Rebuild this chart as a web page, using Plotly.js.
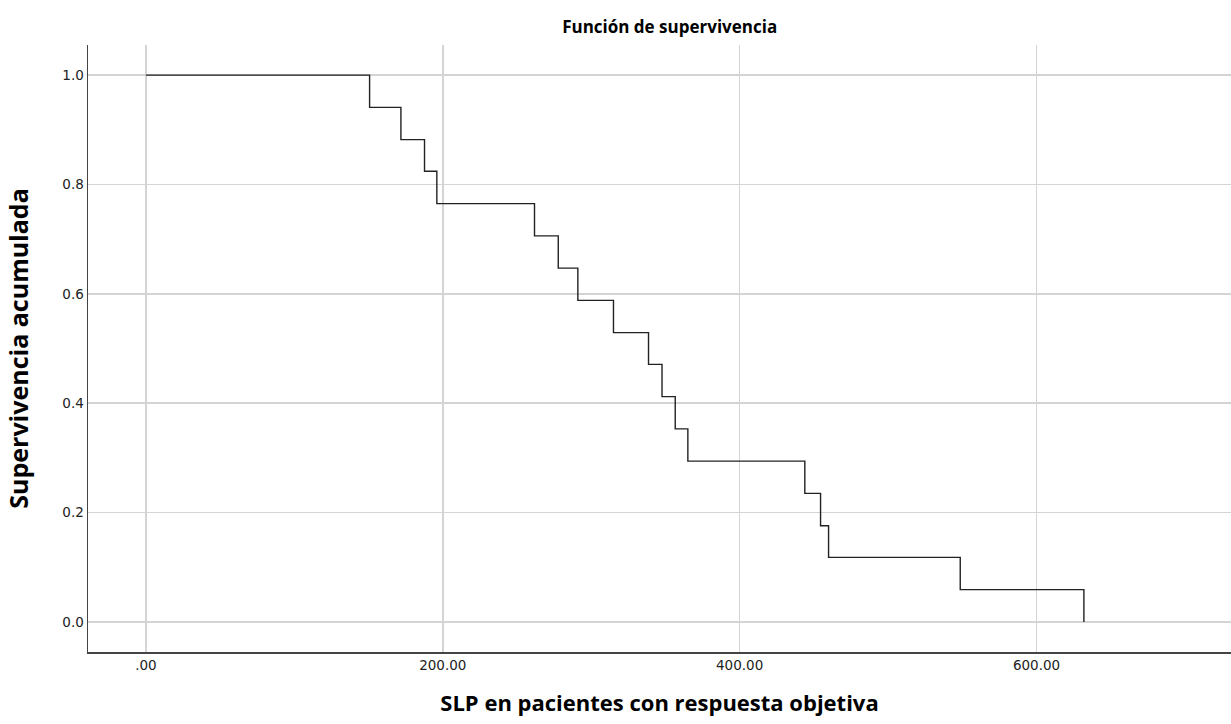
<!DOCTYPE html>
<html>
<head>
<meta charset="utf-8">
<script src="https://cdn.plot.ly/plotly-3.0.1.min.js"></script>
<style>html,body{margin:0;padding:0;background:#fff;}#chart{width:1231px;height:724px;}</style>
</head>
<body>
<div id="chart"></div>
<script>
// Kaplan-Meier survival: event times and cumulative survival after each event
const times = [0, 150.7, 171.8, 187.7, 196.0, 261.8, 277.8, 291.0, 315.0, 338.6, 347.7, 356.6, 365.1, 443.9, 454.5, 459.9, 548.6, 631.9];
const survival = [1.0, 0.941, 0.882, 0.824, 0.765, 0.706, 0.647, 0.588, 0.529, 0.471, 0.412, 0.353, 0.294, 0.235, 0.176, 0.118, 0.059, 0.0];
const xTickVals = [0, 200, 400, 600];
const xTickText = ['.00', '200.00', '400.00', '600.00'];
const yTickVals = [0, 0.2, 0.4, 0.6, 0.8, 1.0];
const yTickText = ['0.0', '0.2', '0.4', '0.6', '0.8', '1.0'];

const tickFont = {family: 'DejaVu Sans, sans-serif', size: 13.5, color: '#222'};

const trace = {
  x: times,
  y: survival,
  type: 'scatter',
  mode: 'lines',
  line: {shape: 'hv', color: '#222', width: 1.4},
  hoverinfo: 'skip',
  showlegend: false
};

const layout = {
  width: 1231,
  height: 724,
  margin: {l: 88, r: 0, t: 45, b: 72},
  paper_bgcolor: '#fff',
  plot_bgcolor: '#fff',
  title: {text: 'Función de supervivencia', font: {family: 'Open Sans, sans-serif', size: 17, color: '#000', weight: 'bold'}, x: 0.544, xanchor: 'center', y: 0.962, yanchor: 'middle'},
  xaxis: {
    range: [-39, 731],
    tickvals: xTickVals,
    ticktext: xTickText,
    tickfont: tickFont,
    showgrid: true,
    gridcolor: '#d4d4d4',
    gridwidth: 1.5,
    zeroline: false,
    showline: true,
    linecolor: '#444',
    linewidth: 1.5,
    ticks: '',
    title: {text: 'SLP en pacientes con respuesta objetiva', font: {family: 'Open Sans, sans-serif', size: 22, color: '#000', weight: 'bold'}, standoff: 24}
  },
  yaxis: {
    range: [-0.055, 1.055],
    tickvals: yTickVals,
    ticktext: yTickText,
    tickfont: tickFont,
    showgrid: true,
    gridcolor: '#d4d4d4',
    gridwidth: 1.5,
    zeroline: false,
    showline: true,
    linecolor: '#444',
    linewidth: 1.5,
    ticks: '',
    title: {text: 'Supervivencia acumulada', font: {family: 'Open Sans, sans-serif', size: 25, color: '#000', weight: 'bold'}, standoff: 26}
  }
};

Plotly.newPlot('chart', [trace], layout, {displayModeBar: false, staticPlot: true});
</script>
</body>
</html>
